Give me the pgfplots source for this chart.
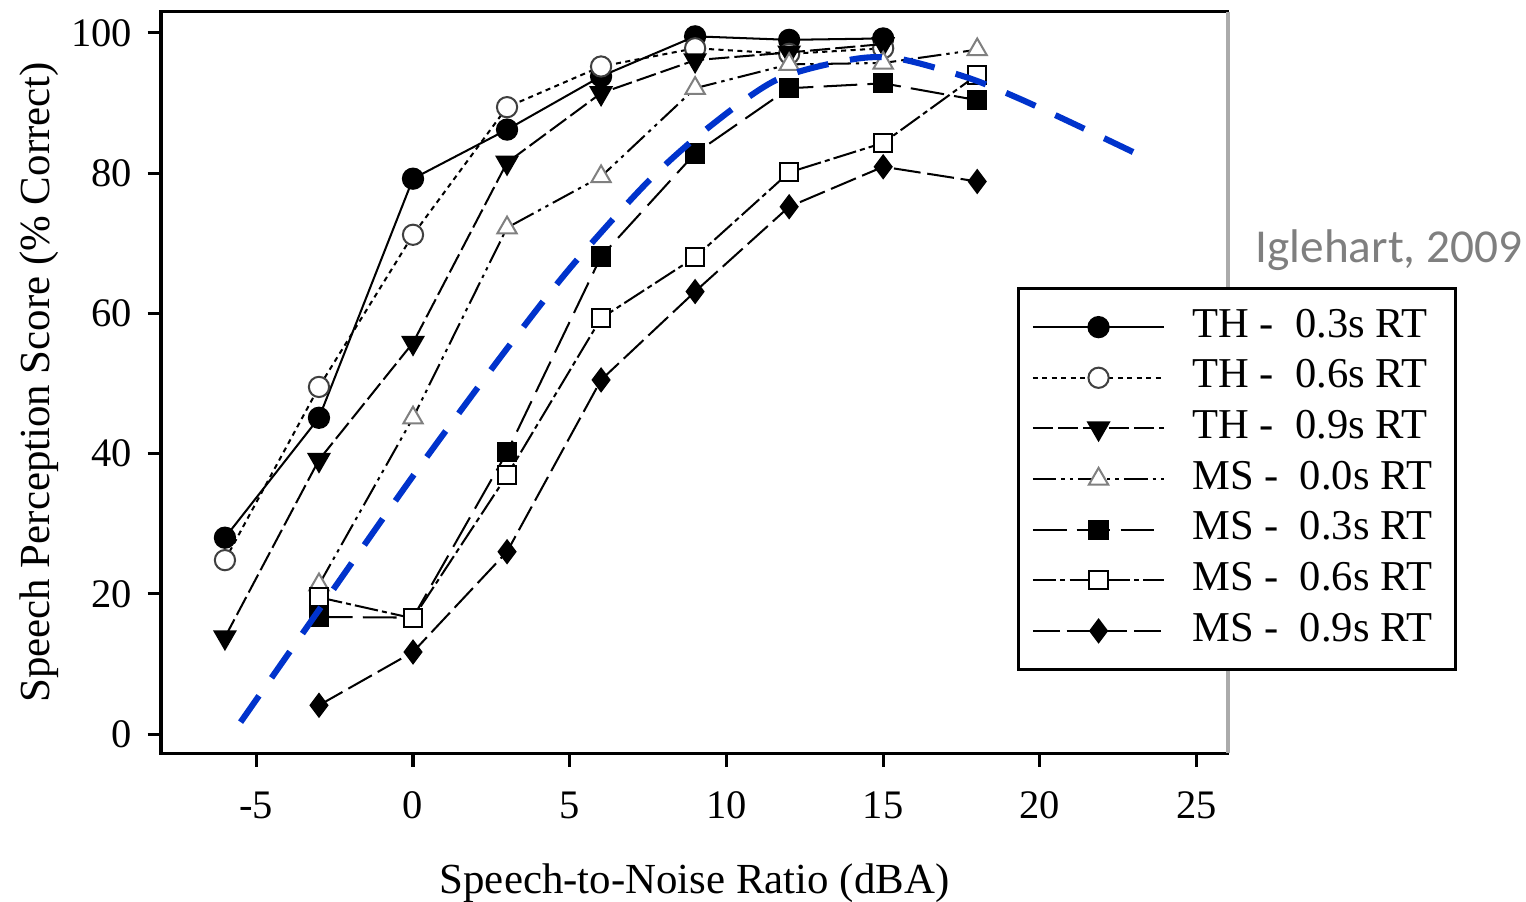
\documentclass[border=0pt]{standalone}
\usepackage{fontspec}
\setmainfont{Liberation Serif}
\newfontfamily\notefont{Carlito}
\usepackage{pgfplots}
\pgfplotsset{compat=1.18}
\definecolor{curveblue}{HTML}{0033CC}
\definecolor{notegray}{HTML}{7F7F7F}
\definecolor{edgegray}{HTML}{ABABAB}

\begin{document}
\begin{tikzpicture}
\begin{axis}[
    scale only axis, width=316.1pt, height=219.6pt,
    clip mode=individual,
    xmin=-8.04, xmax=26.0, ymin=-2.71, ymax=103.0,
    xtick={-5,0,5,10,15,20,25}, xticklabels={-5,0,5,10,15,20,25},
    ytick={0,20,40,60,80,100}, yticklabels={0,20,40,60,80,100},
    xtick pos=left, ytick pos=left, tick align=outside, major tick length=4pt,
    axis line style={line width=0.9pt},
    every tick/.style={black, line width=0.9pt},
    tick label style={font=\fontsize{12}{14}\selectfont},
    xticklabel style={yshift=-4pt},
    yticklabel style={xshift=-1pt},
    xlabel={Speech-to-Noise Ratio (dBA)},
    ylabel={Speech Perception Score (\% Correct)},
    label style={font=\fontsize{12.7}{15}\selectfont},
    xlabel style={at={(axis description cs:0.5,-0.189)}, anchor=base},
    ylabel style={at={(axis description cs:-0.1041,0.5)}, anchor=base},
    legend style={at={(0.802,0.629)}, anchor=north west, draw=black,
        line width=0.9pt, fill=white, font=\fontsize{12.6}{15}\selectfont,
        inner xsep=4pt, inner ysep=5pt, row sep=2pt, column sep=5pt,
        nodes={inner xsep=3pt, inner ysep=1pt, text height=8.5pt, text depth=2.5pt}},
    legend cell align=left,
    legend image code/.code={\draw[mark repeat=2,mark phase=2]
        plot coordinates {(0pt,0pt) (19.5pt,0pt) (39pt,0pt)};},
  ]
  % TH - 0.3s RT
  \addplot[black, line width=0.6pt, solid, mark=*, mark size=3pt,
      mark options={solid, fill=black}]
    coordinates {(-6,28.0) (-3,45.1) (0,79.2) (3,86.2) (6,93.8) (9,99.5) (12,99.0) (15,99.2)};
  % TH - 0.6s RT
  \addplot[black, line width=0.6pt, dash pattern=on 1.5pt off 1.3pt, mark=*, mark size=3pt,
      mark options={solid, fill=white, draw=black!75}]
    coordinates {(-6,24.8) (-3,49.5) (0,71.2) (3,89.4) (6,95.2) (9,97.8) (12,97.0) (15,97.8)};
  % TH - 0.9s RT
  \addplot[black, line width=0.6pt, dash pattern=on 6pt off 1.5pt, mark=triangle*, mark size=3.5pt,
      mark options={solid, fill=black, rotate=180}]
    coordinates {(-6,13.8) (-3,39.1) (0,55.8) (3,81.5) (6,91.4) (9,96.1) (12,97.2) (15,98.4)};
  % MS - 0.0s RT
  \addplot[black, line width=0.6pt, dash pattern=on 7pt off 1.5pt on 1pt off 1.5pt on 1pt off 1.5pt,
      mark=triangle*, mark size=3.3pt, mark options={solid, fill=white, draw=black!50}]
    coordinates {(-3,21.3) (0,45.1) (3,72.2) (6,79.5) (9,92.1) (12,95.5) (15,95.7) (18,97.6)};
  % MS - 0.3s RT
  \addplot[black, line width=0.6pt, dash pattern=on 10pt off 3pt, mark=square*, mark size=2.7pt,
      mark options={solid, fill=black}]
    coordinates {(-3,16.7) (0,16.6) (3,40.2) (6,68.1) (9,82.8) (12,92.1) (15,92.8) (18,90.4)};
  % MS - 0.6s RT
  \addplot[black, line width=0.6pt, dash pattern=on 7pt off 1.2pt on 1.5pt off 1.2pt,
      mark=square*, mark size=2.7pt, mark options={solid, fill=white, draw=black}]
    coordinates {(-3,19.5) (0,16.5) (3,36.9) (6,59.3) (9,68.0) (12,80.1) (15,84.3) (18,94.0)};
  % MS - 0.9s RT
  \addplot[black, line width=0.6pt, dash pattern=on 8pt off 2pt, mark=diamond*, mark size=3.3pt,
      mark options={solid, fill=black}]
    coordinates {(-3,4.1) (0,11.7) (3,26.0) (6,50.5) (9,63.1) (12,75.2) (15,80.9) (18,78.8)};
  % blue trend curve
  \addplot[curveblue, line width=1.8pt, smooth, dash pattern=on 9.5pt off 6.5pt, forget plot]
    coordinates {(-5.5,1.7) (-3,17.7) (0,36.8) (2.8,53.8) (5,66.4) (7.5,78.8) (9.4,86.4)
      (11.6,93.3) (14,96.2) (15.5,96.3) (17.7,93.6) (19.3,90.7) (21,87.2) (23.3,82.3)};
  \legend{TH -~~0.3s RT, TH -~~0.6s RT, TH -~~0.9s RT,
    MS -~~0.0s RT, MS -~~0.3s RT, MS -~~0.6s RT, MS -~~0.9s RT}
  \draw[edgegray, line width=1.4pt] (rel axis cs:1,0) -- (rel axis cs:1,1);
  \node[anchor=base west, inner sep=0pt, text=notegray, font=\notefont\fontsize{14}{16}\selectfont]
    at (rel axis cs:1.0253,0.6613) {Iglehart, 2009};
\end{axis}
\pgfresetboundingbox
\useasboundingbox (-47.7pt,-43.85pt) rectangle (404.4pt,223.1pt);
\end{tikzpicture}
\end{document}
